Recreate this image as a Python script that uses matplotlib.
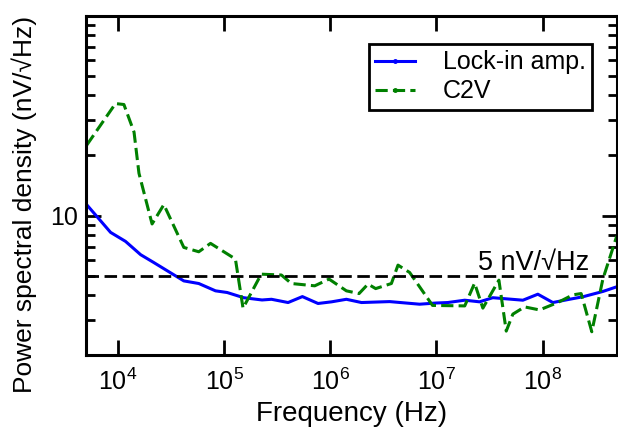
import numpy as np
import matplotlib as mpl
mpl.use('Agg')
import matplotlib.pyplot as plt

plt.style.use('default')
plt.rcParams['font.family'] = ['Liberation Sans', 'DejaVu Sans']
plt.rcParams['font.size'] = 18
plt.rcParams['mathtext.fontset'] = 'custom'
plt.rcParams['mathtext.rm'] = 'Liberation Sans'
plt.rcParams['mathtext.default'] = 'regular'

# Lock-in amplifier noise (Hz, nV/sqrt(Hz))
lockin_freq = [5.08e3, 8.54e3, 1.18e4, 1.64e4, 2.18e4, 4.18e4, 5.78e4, 8.31e4,
               1.07e5, 1.53e5, 2.28e5, 2.80e5, 4.01e5, 5.47e5, 7.68e5, 1.03e6,
               1.42e6, 1.97e6, 3.63e6, 6.95e6, 9.98e6, 1.28e7, 1.85e7, 2.55e7,
               3.40e7, 6.53e7, 9.03e7, 1.25e8, 1.79e8, 2.39e8, 3.70e8, 5.0e8]
lockin_psd = [11.35, 8.24, 7.43, 6.37, 5.82, 4.71, 4.57, 4.20,
              4.12, 3.88, 3.78, 3.81, 3.67, 3.93, 3.63, 3.70,
              3.81, 3.67, 3.71, 3.60, 3.65, 3.67, 3.77, 3.70,
              3.88, 3.77, 4.04, 3.67, 3.81, 3.92, 4.17, 4.40]

# C2V noise
c2v_freq = [5.08e3, 9.5e3, 1.14e4, 1.42e4, 1.58e4, 2.10e4, 2.71e4, 4.18e4,
            5.78e4, 7.46e4, 1.28e5, 1.51e5, 2.24e5, 3.47e5, 4.31e5, 7.15e5,
            9.75e5, 1.42e6, 1.87e6, 2.27e6, 2.68e6, 3.77e6, 4.35e6, 5.60e6,
            9.2e6, 1.85e7, 2.29e7, 2.74e7, 3.88e7, 4.55e7, 5.25e7, 6.77e7,
            9.37e7, 1.39e8, 1.93e8, 2.31e8, 2.91e8, 3.70e8, 5.0e8]
c2v_psd = [22.5, 36.4, 36.0, 26.2, 16.3, 9.08, 11.35, 6.93,
           6.59, 7.26, 6.06, 3.44, 5.09, 5.04, 4.57, 4.45,
           4.81, 4.20, 4.07, 4.54, 4.31, 4.57, 5.65, 5.19,
           3.55, 3.53, 4.59, 3.44, 4.75, 2.64, 3.21, 3.49,
           3.37, 3.67, 4.01, 4.07, 2.62, 4.81, 7.9]

ref_level = 5.0

fig = plt.figure(figsize=(6.18, 4.30), dpi=100)
ax = fig.add_axes([0.139, 0.174, 0.859, 0.789])

ax.plot(lockin_freq, lockin_psd, color='#0000ff', lw=2.2, label='Lock-in amp.')
ax.plot(c2v_freq, c2v_psd, color='#008000', lw=2.2, ls=(0, (4, 1.7)), label='C2V')
ax.axhline(ref_level, color='black', lw=2.0, ls=(0, (4.5, 2)))
ax.text(2.75e8, 5.35, '5 nV/\u221aHz', ha='right', va='baseline', fontsize=19.5)

ax.set_xscale('log')
ax.set_yscale('log')
ax.set_xlim(5e3, 5e8)
ax.set_ylim(2, 100)

ax.set_xticks([1e4, 1e5, 1e6, 1e7, 1e8])
ax.set_xticklabels(['$10^{4}$', '$10^{5}$', '$10^{6}$', '$10^{7}$', '$10^{8}$'])
ax.xaxis.set_minor_locator(mpl.ticker.NullLocator())
ax.set_yticks([10])
ax.set_yticklabels(['10'])
ax.yaxis.set_minor_locator(mpl.ticker.LogLocator(base=10, subs=np.arange(2, 10)))
ax.yaxis.set_minor_formatter(mpl.ticker.NullFormatter())

ax.tick_params(which='both', direction='in', top=True, right=True, width=2)
ax.tick_params(which='major', length=11)
ax.tick_params(which='minor', length=6.5)
ax.tick_params(axis='x', which='major', pad=10)
ax.tick_params(axis='y', which='major', pad=6)
for sp in ax.spines.values():
    sp.set_linewidth(2.2)

ax.set_xlabel('Frequency (Hz)', fontsize=20)
ax.set_ylabel('Power spectral density (nV/\u221aHz)', fontsize=19)
ax.yaxis.set_label_coords(-0.092, 0.445)

leg = ax.legend(loc='upper right', bbox_to_anchor=(0.953, 0.917), borderaxespad=0,
                fancybox=False, edgecolor='black', framealpha=1, handlelength=1.6,
                handletextpad=1.1, borderpad=0.25, labelspacing=0.2)
leg.get_frame().set_linewidth(2.0)
for ln in leg.get_lines():
    ln.set_marker('.')
    ln.set_markersize(5)
    ln.set_markevery([1])

fig.savefig('out.png', dpi=100)
